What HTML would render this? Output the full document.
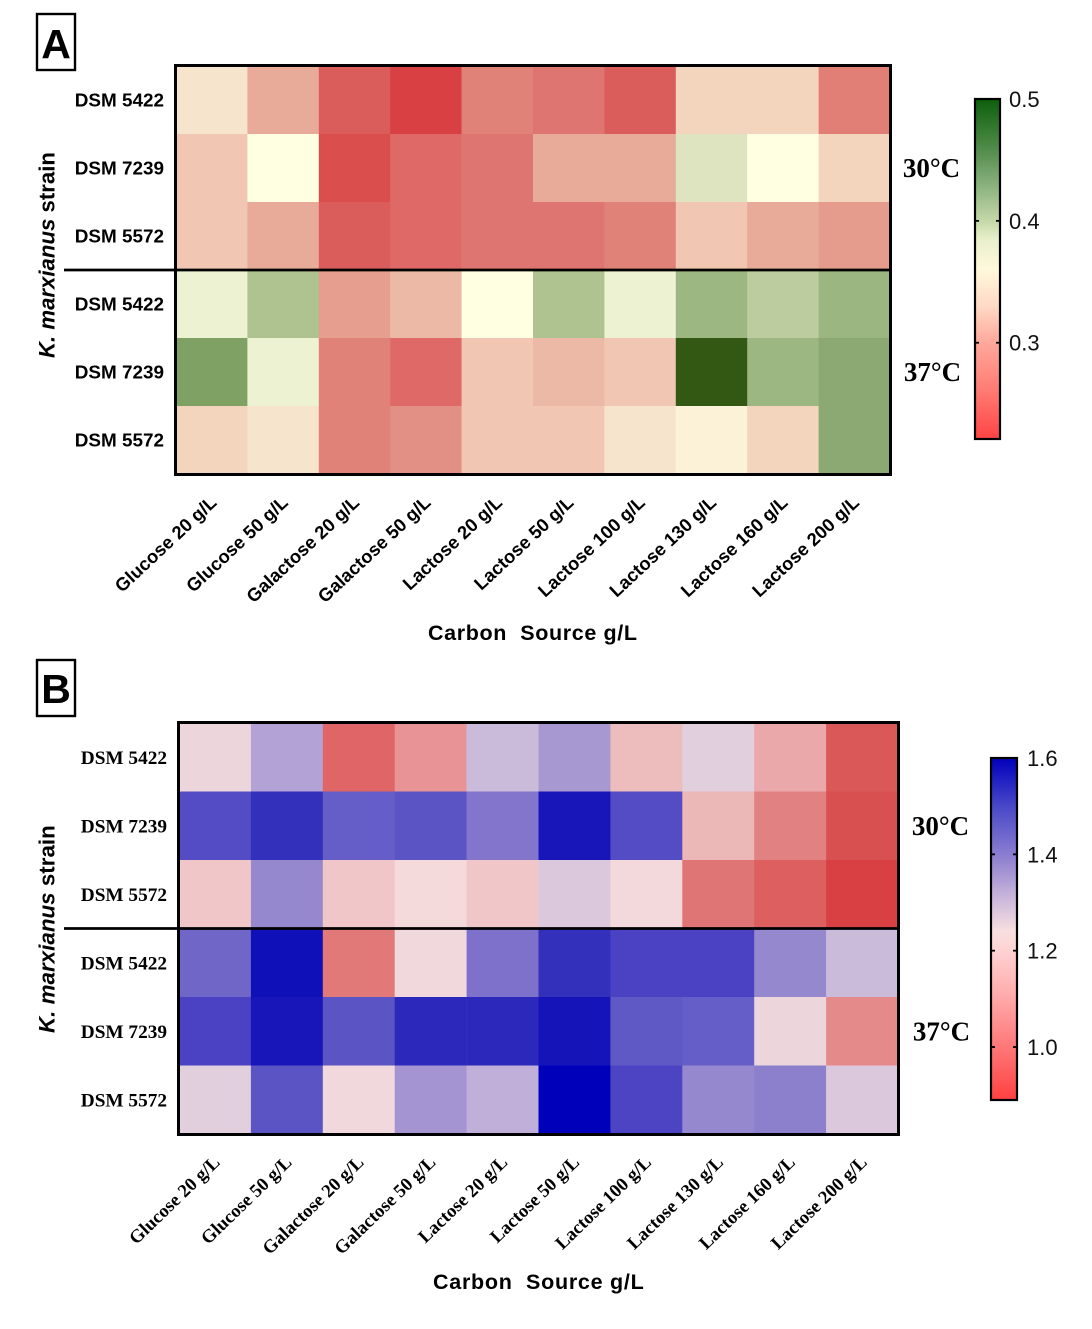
<!DOCTYPE html>
<html lang="en">
<head>
<meta charset="utf-8">
<title>K. marxianus strain heatmaps</title>
<style>
  html, body { margin: 0; padding: 0; background: #fff; }
  svg { display: block; }
  .sans { font-family: "Liberation Sans", sans-serif; }
  .serif { font-family: "Liberation Serif", serif; }
</style>
</head>
<body>
<svg id="figure" xmlns="http://www.w3.org/2000/svg" width="1092" height="1329" viewBox="0 0 1092 1329">
  <rect x="0" y="0" width="1092" height="1329" fill="#fff"/>
  <g id="panelA"></g>
  <g id="panelB"></g>

  <rect x="37" y="14" width="38" height="56" fill="none" stroke="#000" stroke-width="2.4"/>
  <text class="sans" x="56" y="58" font-size="41" font-weight="bold" text-anchor="middle">A</text>
  <rect x="37" y="660" width="38" height="56" fill="none" stroke="#000" stroke-width="2.4"/>
  <text class="sans" x="56" y="703" font-size="41" font-weight="bold" text-anchor="middle">B</text>

  <text class="sans" transform="translate(54.5,358) rotate(-90)" font-size="22.2" font-weight="bold"><tspan font-style="italic">K. marxianus</tspan> strain</text>
  <text class="sans" transform="translate(54.5,1033) rotate(-90)" font-size="22.4" font-weight="bold"><tspan font-style="italic">K. marxianus</tspan> strain</text>
  <text class="sans" x="428" y="640" font-size="21.5" font-weight="bold" letter-spacing="0.63">Carbon&#160; Source g/L</text>
  <text class="sans" x="433" y="1289" font-size="21.5" font-weight="bold" letter-spacing="0.73">Carbon&#160; Source g/L</text>
</svg>

<script>
// ---- chart data ----
const categories = ["Glucose 20 g/L", "Glucose 50 g/L", "Galactose 20 g/L", "Galactose 50 g/L", "Lactose 20 g/L", "Lactose 50 g/L", "Lactose 100 g/L", "Lactose 130 g/L", "Lactose 160 g/L", "Lactose 200 g/L"];
const strains = ["DSM 5422", "DSM 7239", "DSM 5572", "DSM 5422", "DSM 7239", "DSM 5572"];
const temperatures = ["30°C", "37°C"];
const valuesA = [
  [0.345, 0.305, 0.250, 0.230, 0.280, 0.270, 0.250, 0.335, 0.335, 0.278],
  [0.325, 0.365, 0.240, 0.260, 0.270, 0.305, 0.305, 0.400, 0.365, 0.335],
  [0.325, 0.305, 0.250, 0.260, 0.270, 0.270, 0.280, 0.325, 0.305, 0.295],
  [0.385, 0.425, 0.297, 0.315, 0.365, 0.425, 0.385, 0.435, 0.415, 0.436],
  [0.460, 0.385, 0.280, 0.260, 0.325, 0.315, 0.325, 0.500, 0.435, 0.445],
  [0.335, 0.345, 0.280, 0.290, 0.325, 0.325, 0.345, 0.355, 0.335, 0.445]
];
const valuesB = [
  [1.25, 1.34, 1.00, 1.11, 1.32, 1.36, 1.16, 1.28, 1.13, 0.96],
  [1.47, 1.52, 1.45, 1.46, 1.42, 1.57, 1.47, 1.15, 1.07, 0.95],
  [1.19, 1.38, 1.19, 1.23, 1.19, 1.30, 1.235, 1.04, 0.98, 0.93],
  [1.44, 1.585, 1.05, 1.24, 1.425, 1.52, 1.49, 1.49, 1.38, 1.32],
  [1.49, 1.57, 1.46, 1.54, 1.54, 1.575, 1.455, 1.45, 1.25, 1.09],
  [1.28, 1.46, 1.24, 1.365, 1.33, 1.60, 1.485, 1.38, 1.40, 1.30]
];
const tickLabelsA = ["0.3", "0.4", "0.5"];
const tickLabelsB = ["1.0", "1.2", "1.4", "1.6"];

// ---- colour scales (value thresholds and colours) ----
const cellDomainA = [0.23,0.24,0.25,0.26,0.27,0.28,0.29,0.295,0.305,0.315,0.325,0.335,0.345,0.355,0.365,0.385,0.40,0.415,0.425,0.435,0.445,0.46,0.50];
const cellColorsA = ["#d94043","#da4e4e","#da5d5b","#df6966","#df7570","#e18278","#e29085","#e59c8c","#e8ab99","#ecb9a7","#f1c7b3","#f3d5bd","#f6e4cc","#fbf2d8","#ffffe2","#ecf2d2","#dde4bf","#bdcc9e","#aec38f","#9cb781","#8da973","#7fa264","#335813"];
const cellDomainB = [0.93,0.96,1.00,1.04,1.08,1.11,1.13,1.15,1.17,1.19,1.23,1.25,1.28,1.30,1.32,1.34,1.36,1.38,1.40,1.42,1.44,1.45,1.46,1.47,1.49,1.52,1.54,1.57,1.585,1.60];
const cellColorsB = ["#d84043","#da5858","#df6566","#e07575","#e28585","#e89496","#eaa8aa","#ecb7b7","#eec0c2","#f1c6c8","#f5dadc","#ecd6dc","#e1cfdd","#dbc8dc","#cbbbdb","#b2a2d6","#a898d2","#9688ce","#8c80cc","#8375cc","#7066c8","#655ec8","#5a54c5","#544cc4","#4a42c2","#3330bc","#2c28bc","#1816b8","#1010b8","#0000bb"];
const barDomainA = [0.221,0.26,0.30,0.33,0.36,0.385,0.40,0.43,0.46,0.50];
const barColorsA = ["#ff4444","#ff7a72","#ffa89c","#ffd9c4","#fff8dc","#e8efca","#c4d8a8","#88b07c","#4f8a48","#0c5f0c"];
const barDomainB = [0.89,1.0,1.1,1.2,1.24,1.3,1.4,1.5,1.6];
const barColorsB = ["#ff4040","#ff7878","#ffa8a8","#ffd2d2","#f8dfe0","#d0bcdc","#8a7cd0","#4848c8","#0000bb"];

// ---- panel layout ----
const layoutA = { left: 176, right: 890, top: 66, bottom: 474, font: "sans", rowFont: 18.9, tickFont: 18.4, rowLabelRight: 164,
  dividerLeft: 64, tickDx: 6, tickY: 504, tickAngle: -43, tempX: 931.5, tempFont: 27, tempDy: 9,
  barX: 975, barW: 25, barTop: 99, barBottom: 439, barMin: 0.221, barMax: 0.5, labelX: 1009, labelFont: 22 };
const layoutB = { left: 179, right: 898, top: 723, bottom: 1134, font: "serif", rowFont: 19.3, tickFont: 18.6, rowLabelRight: 167,
  dividerLeft: 64, tickDx: 6, tickY: 1163.5, tickAngle: -44, tempX: 940.5, tempFont: 27, tempDy: 9,
  barX: 991, barW: 26, barTop: 758, barBottom: 1100, barMin: 0.89, barMax: 1.6, labelX: 1027, labelFont: 22 };

const NS = "http://www.w3.org/2000/svg";
function make(tag, parent, attrs) {
  const el = document.createElementNS(NS, tag);
  for (const k in attrs) el.setAttribute(k, attrs[k]);
  parent.appendChild(el);
  return el;
}
function hexToRgb(h) {
  return [parseInt(h.slice(1,3),16), parseInt(h.slice(3,5),16), parseInt(h.slice(5,7),16)];
}
function colorScale(domain, colors) {
  return function (v) {
    if (v <= domain[0]) return colors[0];
    const last = domain.length - 1;
    if (v >= domain[last]) return colors[last];
    let i = 0;
    while (v > domain[i + 1]) i++;
    const t = (v - domain[i]) / (domain[i + 1] - domain[i]);
    const a = hexToRgb(colors[i]), b = hexToRgb(colors[i + 1]);
    return "rgb(" + a.map((c, j) => Math.round(c + (b[j] - c) * t)).join(",") + ")";
  };
}

function drawPanel(group, id, L, values, tickLabels, cellColor, barDomain, barColors) {
  const nRows = strains.length, nCols = categories.length;
  const xScale = i => L.left + (L.right - L.left) * i / nCols;
  const yScale = r => L.top + (L.bottom - L.top) * r / nRows;
  const barY = v => L.barBottom - (v - L.barMin) / (L.barMax - L.barMin) * (L.barBottom - L.barTop);

  // heatmap cells
  values.forEach((row, r) => {
    row.forEach((v, c) => {
      const cell = make("rect", group, {
        x: xScale(c), y: yScale(r),
        width: xScale(c + 1) - xScale(c) + 0.3,
        height: yScale(r + 1) - yScale(r) + 0.3,
        fill: cellColor(v)
      });
      
      
    });
  });

  // frame and divider between temperatures
  const frame = make("rect", group, {
    x: L.left - 0.5, y: L.top - 0.5,
    width: L.right - L.left + 1, height: L.bottom - L.top + 1,
    fill: "none", stroke: "#000", "stroke-width": 3
  });
  
  
  const divider = make("line", group, {
    x1: L.dividerLeft, x2: L.right, y1: yScale(3), y2: yScale(3),
    stroke: "#000", "stroke-width": 2.8
  });
  
  

  // row labels
  strains.forEach((s, r) => {
    const t = make("text", group, {
      x: L.rowLabelRight, y: (yScale(r) + yScale(r + 1)) / 2 + 6.5,
      "text-anchor": "end", "font-size": L.rowFont, "font-weight": "bold", class: L.font
    });
    t.textContent = s;
    
    
  });

  // category labels
  categories.forEach((c, i) => {
    const ax = (xScale(i) + xScale(i + 1)) / 2 + L.tickDx;
    const t = make("text", group, {
      transform: "translate(" + ax + "," + L.tickY + ") rotate(" + L.tickAngle + ")",
      "text-anchor": "end", "font-size": L.tickFont, "font-weight": "bold", class: L.font
    });
    t.textContent = c;
    
    
  });

  // temperature labels
  temperatures.forEach((temp, k) => {
    const t = make("text", group, {
      x: L.tempX + k, y: yScale(k * 3 + 1.5) + L.tempDy,
      "text-anchor": "middle", "font-size": L.tempFont, "font-weight": "bold", class: "serif"
    });
    t.textContent = temp;
    
    
  });

  // colour bar
  const defs = make("defs", group, {});
  const grad = make("linearGradient", defs, { id: "grad" + id, x1: 0, y1: 1, x2: 0, y2: 0 });
  barDomain.forEach((v, i) => {
    make("stop", grad, {
      offset: (v - L.barMin) / (L.barMax - L.barMin),
      "stop-color": barColors[i]
    });
  });
  const bar = make("rect", group, {
    x: L.barX, y: L.barTop, width: L.barW, height: L.barBottom - L.barTop,
    fill: "url(#grad" + id + ")", stroke: "#000", "stroke-width": 2.2
  });
  
  
  tickLabels.forEach(label => {
    const v = parseFloat(label);
    const y = barY(v);
    const atEdge = v >= L.barMax;
    if (!atEdge) {
      const t1 = make("line", group, { x1: L.barX, x2: L.barX + 4, y1: y, y2: y, stroke: "#000", "stroke-width": 1.8 });
      
      
      const t2 = make("line", group, { x1: L.barX + L.barW - 4, x2: L.barX + L.barW, y1: y, y2: y, stroke: "#000", "stroke-width": 1.8 });
      
      
    }
    const txt = make("text", group, {
      x: L.labelX, y: y + 8, "font-size": L.labelFont, class: "sans", fill: "#111"
    });
    txt.textContent = label;
    
    
  });
}

drawPanel(document.getElementById("panelA"), "A", layoutA, valuesA, tickLabelsA, colorScale(cellDomainA, cellColorsA), barDomainA, barColorsA);
drawPanel(document.getElementById("panelB"), "B", layoutB, valuesB, tickLabelsB, colorScale(cellDomainB, cellColorsB), barDomainB, barColorsB);
</script>
</body>
</html>
